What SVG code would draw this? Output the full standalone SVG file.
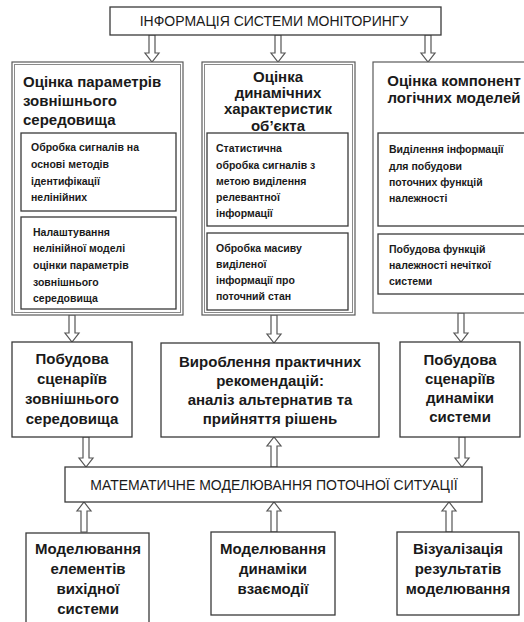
<svg xmlns="http://www.w3.org/2000/svg" width="524" height="622" viewBox="0 0 524 622">
<style>
.bg{fill:#ffffff}
.box{fill:#ffffff;stroke:#3a3a3a;stroke-width:1.3}
.outer{fill:#ffffff;stroke:#5a5a5a;stroke-width:1.2}
.inner2{fill:none;stroke:#8a8a8a;stroke-width:1}
.arrow{fill:#ffffff;stroke:#555555;stroke-width:1.2;stroke-linejoin:miter}
text{font-family:"Liberation Sans",Arial,sans-serif;fill:#1a1a1a}
.h{font-size:14px}
.t{font-size:15px;font-weight:bold}
.s{font-size:10.5px;font-weight:bold}
.c{text-anchor:middle}
</style>
<rect class="bg" x="0" y="0" width="524" height="622"/>

<g id="connectors">
  <path class="arrow" d="M149,35 V53 H145 L152,62 L159,53 H155 V35 Z"/>
  <path class="arrow" d="M275,35 V53 H271 L278,62 L285,53 H281 V35 Z"/>
  <path class="arrow" d="M425,35 V53 H421 L428,62 L435,53 H431 V35 Z"/>
  <path class="arrow" d="M69,315 V333 H65 L72,342 L79,333 H75 V315 Z"/>
  <path class="arrow" d="M271,315 V334 H267 L274,343 L281,334 H277 V315 Z"/>
  <path class="arrow" d="M458,313 V333 H454 L461,342 L468,333 H464 V313 Z"/>
  <path class="arrow" d="M83,437 V458 H79 L86,467 L93,458 H89 V437 Z"/>
  <path class="arrow" d="M271,467 V446 H267 L274,437 L281,446 H277 V467 Z"/>
  <path class="arrow" d="M459,437 V458 H455 L462,467 L469,458 H465 V437 Z"/>
  <path class="arrow" d="M81,532 V511 H77 L84,502 L91,511 H87 V532 Z"/>
  <path class="arrow" d="M271,532 V511 H267 L274,502 L281,511 H277 V532 Z"/>
  <path class="arrow" d="M446,532 V511 H442 L449,502 L456,511 H452 V532 Z"/>
</g>

<g id="top">
  <rect class="box" x="110" y="7" width="331" height="28"/>
  <text class="h c" x="274" y="26">ІНФОРМАЦІЯ СИСТЕМИ МОНІТОРИНГУ</text>
</g>

<g id="col-left">
  <rect class="outer" x="12" y="62" width="171" height="253"/>
  <rect class="inner2" x="14.5" y="64.5" width="166" height="248"/>
  <text class="t" x="23" y="87">Оцінка параметрів</text>
  <text class="t" x="23" y="106">зовнішнього</text>
  <text class="t" x="23" y="125">середовища</text>
</g>
<g id="left-sub1">
  <rect class="box" x="21" y="133" width="155" height="78"/>
  <text class="s" x="31" y="151">Обробка сигналів на</text>
  <text class="s" x="31" y="168">основі методів</text>
  <text class="s" x="31" y="185">ідентифікації</text>
  <text class="s" x="31" y="201">нелінійних</text>
</g>
<g id="left-sub2">
  <rect class="box" x="21" y="217" width="155" height="92"/>
  <text class="s" x="33" y="236">Налаштування</text>
  <text class="s" x="33" y="252">нелінійної моделі</text>
  <text class="s" x="33" y="269">оцінки параметрів</text>
  <text class="s" x="33" y="286">зовнішнього</text>
  <text class="s" x="33" y="302">середовища</text>
</g>

<g id="col-mid">
  <rect class="outer" x="202" y="62" width="153" height="253"/>
  <rect class="inner2" x="204.5" y="64.5" width="148" height="248"/>
  <text class="t c" x="278" y="82">Оцінка</text>
  <text class="t c" x="278" y="98">динамічних</text>
  <text class="t c" x="278" y="114">характеристик</text>
  <text class="t c" x="278" y="131">об’єкта</text>
</g>
<g id="mid-sub1">
  <rect class="box" x="207" y="133" width="141" height="93"/>
  <text class="s" x="216" y="152">Статистична</text>
  <text class="s" x="216" y="169">обробка сигналів з</text>
  <text class="s" x="216" y="185">метою виділення</text>
  <text class="s" x="216" y="201">релевантної</text>
  <text class="s" x="216" y="217">інформації</text>
</g>
<g id="mid-sub2">
  <rect class="box" x="207" y="233" width="141" height="77"/>
  <text class="s" x="216" y="252">Обробка масиву</text>
  <text class="s" x="216" y="268">виділеної</text>
  <text class="s" x="216" y="284">інформації про</text>
  <text class="s" x="216" y="300">поточний стан</text>
</g>

<g id="col-right">
  <rect class="outer" x="373" y="62" width="156" height="251"/>
  <text class="t c" x="454" y="86">Оцінка компонент</text>
  <text class="t c" x="454" y="103">логічних моделей</text>
</g>
<g id="right-sub1">
  <rect class="box" x="378" y="133" width="150" height="93"/>
  <text class="s" x="389" y="153">Виділення інформації</text>
  <text class="s" x="389" y="170">для побудови</text>
  <text class="s" x="389" y="186">поточних функцій</text>
  <text class="s" x="389" y="202">належності</text>
</g>
<g id="right-sub2">
  <rect class="box" x="378" y="234" width="150" height="60"/>
  <text class="s" x="389" y="253">Побудова функцій</text>
  <text class="s" x="389" y="269">належності нечіткої</text>
  <text class="s" x="389" y="285">системи</text>
</g>

<g id="row2-left">
  <rect class="box" x="12" y="342" width="120" height="95"/>
  <text class="t c" x="72" y="364">Побудова</text>
  <text class="t c" x="72" y="384">сценаріїв</text>
  <text class="t c" x="72" y="404">зовнішнього</text>
  <text class="t c" x="72" y="424">середовища</text>
</g>
<g id="row2-mid">
  <rect class="box" x="161" y="343" width="218" height="94"/>
  <text class="t c" x="270" y="367">Вироблення практичних</text>
  <text class="t c" x="270" y="386">рекомендацій:</text>
  <text class="t c" x="270" y="405">аналіз альтернатив та</text>
  <text class="t c" x="270" y="424">прийняття рішень</text>
</g>
<g id="row2-right">
  <rect class="box" x="400" y="342" width="120" height="95"/>
  <text class="t c" x="460" y="365">Побудова</text>
  <text class="t c" x="460" y="384">сценаріїв</text>
  <text class="t c" x="460" y="403">динаміки</text>
  <text class="t c" x="460" y="422">системи</text>
</g>

<g id="math">
  <rect class="box" x="65" y="467" width="417" height="35"/>
  <text class="h c" x="274" y="490">МАТЕМАТИЧНЕ МОДЕЛЮВАННЯ ПОТОЧНОЇ СИТУАЦІЇ</text>
</g>

<g id="bottom-left">
  <rect class="box" x="26" y="533" width="123" height="100"/>
  <text class="t c" x="88" y="554">Моделювання</text>
  <text class="t c" x="88" y="574">елементів</text>
  <text class="t c" x="88" y="594">вихідної</text>
  <text class="t c" x="88" y="614">системи</text>
</g>
<g id="bottom-mid">
  <rect class="box" x="211" y="532" width="124" height="83"/>
  <text class="t c" x="273" y="554">Моделювання</text>
  <text class="t c" x="273" y="574">динаміки</text>
  <text class="t c" x="273" y="594">взаємодії</text>
</g>
<g id="bottom-right">
  <rect class="box" x="397" y="532" width="122" height="83"/>
  <text class="t c" x="458" y="554">Візуалізація</text>
  <text class="t c" x="458" y="574">результатів</text>
  <text class="t c" x="458" y="594">моделювання</text>
</g>
</svg>
